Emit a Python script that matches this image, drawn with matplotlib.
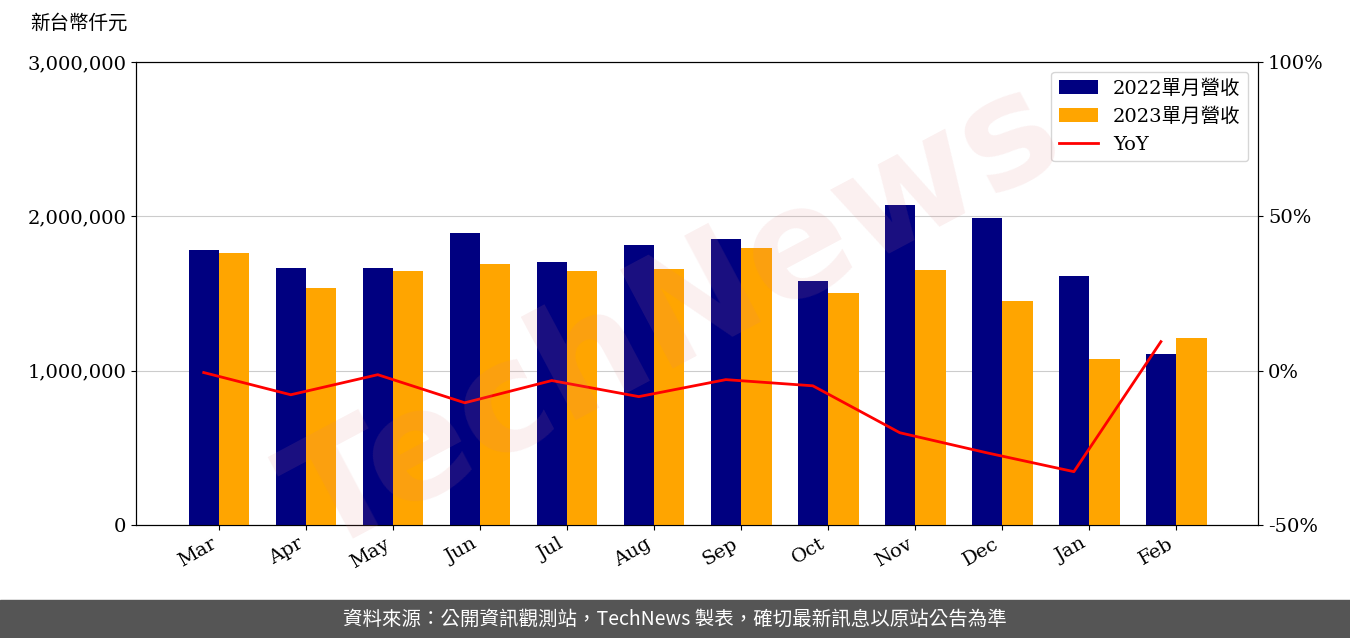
import matplotlib
matplotlib.use("Agg")
import matplotlib.pyplot as plt
import numpy as np
from matplotlib.ticker import FuncFormatter

plt.rcParams['font.family'] = ['DejaVu Serif', 'Noto Sans CJK TC']

months = ['Mar','Apr','May','Jun','Jul','Aug','Sep','Oct','Nov','Dec','Jan','Feb']
rev2022 = [1782000,1666000,1666000,1892000,1704000,1815000,1853000,1581000,2074000,1990000,1614000,1108000]
rev2023 = [1763000,1536000,1646000,1691000,1646000,1659000,1795000,1504000,1653000,1452000,1076000,1212000]
yoy = [-0.6,-7.8,-1.3,-10.4,-3.2,-8.4,-2.9,-4.9,-20.1,-26.6,-32.7,9.4]

fig = plt.figure(figsize=(13.5,6.38), dpi=100)
ax = fig.add_axes([0.1007,0.177,0.8313,0.726])
x = np.arange(len(months))
w = 0.35
ax.bar(x-w/2, rev2022, w, color='#000080', label='2022單月營收', zorder=3)
ax.bar(x+w/2, rev2023, w, color='#FFA500', label='2023單月營收', zorder=3)
ax.set_ylim(0,3000000)
ax.set_yticks([0,1000000,2000000,3000000])
ax.yaxis.set_major_formatter(FuncFormatter(lambda v,p: f'{int(v):,}'))
ax.grid(axis='y', color='#cccccc', zorder=0)
ax.set_xticks(x)
ax.set_xticklabels(months, rotation=30, ha='right')
ax.set_xlim(-0.954, 11.943)
ax.tick_params(labelsize=14)
ax2 = ax.twinx()
ax2.plot(x-w/2, yoy, color='red', lw=2, label='YoY')
ax2.set_ylim(-50,100)
ax2.set_yticks([-50,0,50,100])
ax2.yaxis.set_major_formatter(FuncFormatter(lambda v,p: f'{int(v)}%'))
ax2.tick_params(labelsize=14)
h1,l1 = ax.get_legend_handles_labels()
h2,l2 = ax2.get_legend_handles_labels()
ax2.legend(h1+h2, l1+l2, loc='upper right', fontsize=14)
fig.text(0.022,0.955,'新台幣仟元', fontsize=14, family=['Noto Sans CJK TC'])
fig.text(0.5,0.5,'TechNews', fontsize=110, rotation=28, color='#e08080', alpha=0.12,
         ha='center', va='center', family='DejaVu Sans', weight='bold')
fig.patches.append(plt.Rectangle((0,0),1,0.06, transform=fig.transFigure, color='#555555', zorder=-1))
fig.text(0.5,0.03,'資料來源：公開資訊觀測站，TechNews 製表，確切最新訊息以原站公告為準', color='white',
         fontsize=14, ha='center', va='center', family=['Noto Sans CJK TC'])
fig.savefig('out.png', dpi=100)
